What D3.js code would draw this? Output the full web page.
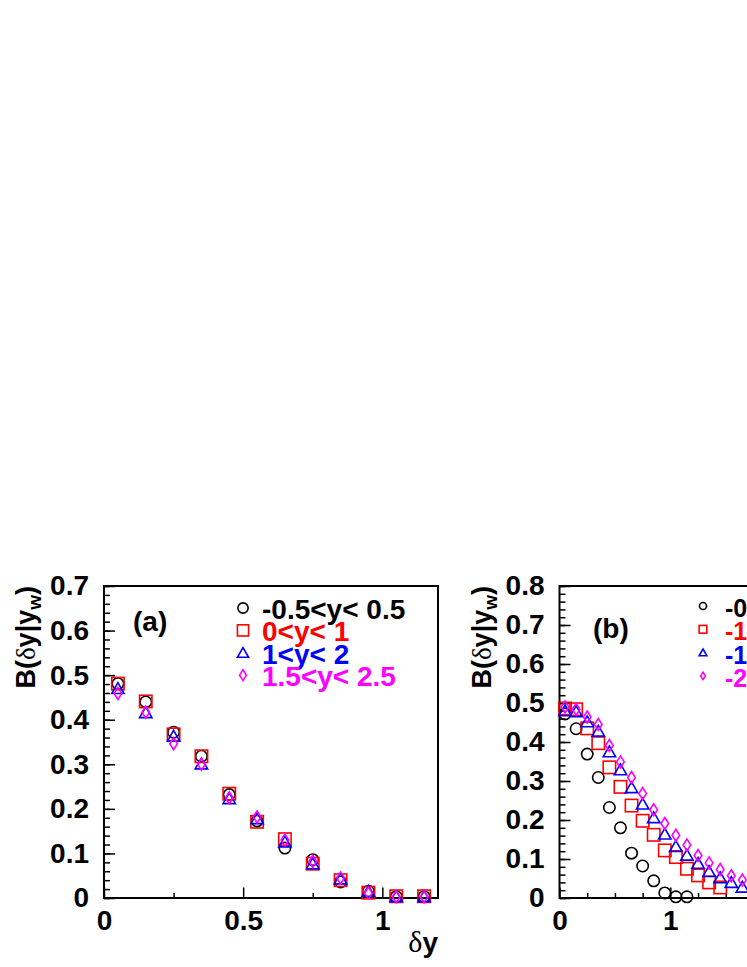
<!DOCTYPE html>
<html>
<head>
<meta charset="utf-8">
<script src="https://cdn.jsdelivr.net/npm/d3@7/dist/d3.min.js"></script>
<style>
  html, body { margin: 0; padding: 0; background: #fff; }
  svg { display: block; }
  text { font-family: "Liberation Sans", Arial, sans-serif; font-weight: bold; }
</style>
</head>
<body>
<div id="chart"></div>
<script>
// ---- data ----
// panel (a): all four rapidity windows share the same bins
const binsA = [0.05, 0.15, 0.25, 0.35, 0.45, 0.55, 0.65, 0.75, 0.85, 0.95, 1.05, 1.15];
const aMid  = [0.481, 0.440, 0.372, 0.318, 0.232, 0.173, 0.112, 0.086, 0.036, 0.015, 0.003, 0.003];
const aY01  = [0.481, 0.441, 0.367, 0.318, 0.234, 0.171, 0.132, 0.077, 0.040, 0.012, 0.004, 0.004];
const aY12  = [0.470, 0.416, 0.363, 0.301, 0.223, 0.178, 0.126, 0.077, 0.043, 0.015, 0.003, 0.003];
const aY1525 = [0.459, 0.417, 0.346, 0.300, 0.225, 0.182, 0.130, 0.082, 0.045, 0.011, 0.003, 0.003];
const legendA = ["-0.5<y< 0.5", "0<y< 1", "1<y< 2", "1.5<y< 2.5"];

// panel (b): the wider windows run out to larger delta-y
const binsB = [0.05, 0.15, 0.25, 0.35, 0.45, 0.55, 0.65, 0.75, 0.85, 0.95, 1.05, 1.15,
               1.25, 1.35, 1.45, 1.55, 1.65];
const bMid  = [0.472, 0.434, 0.369, 0.309, 0.232, 0.180, 0.115, 0.082, 0.044, 0.013, 0.003, 0.003];
const bW1   = [0.486, 0.484, 0.435, 0.397, 0.335, 0.285, 0.237, 0.198, 0.162, 0.122, 0.105, 0.075,
               0.058, 0.040, 0.027];
const bW2   = [0.480, 0.478, 0.452, 0.428, 0.375, 0.329, 0.283, 0.241, 0.206, 0.164, 0.132, 0.110,
               0.089, 0.068, 0.052, 0.040, 0.028];
const bW3   = [0.490, 0.484, 0.464, 0.445, 0.391, 0.349, 0.309, 0.268, 0.226, 0.191, 0.161, 0.136,
               0.109, 0.090, 0.073, 0.057, 0.046];
const legendB = ["-0.5<y< 0.5", "-1<y< 0", "-1.5<y< -0.5", "-2<y< -1"];

const xTicksA = [0, 0.5, 1];
const yTicksA = [0, 0.1, 0.2, 0.3, 0.4, 0.5, 0.6, 0.7];
const xTicksB = [0, 1, 2, 3];
const yTicksB = [0, 0.1, 0.2, 0.3, 0.4, 0.5, 0.6, 0.7, 0.8];

const colors = ["#000000", "#ff0000", "#0000ff", "#ff00ff"];
const shapes = ["circle", "square", "triangle", "diamond"];

const W = 747, H = 967;

const svg = d3.select("#chart").append("svg")
    .attr("width", W)
    .attr("height", H)
    .attr("viewBox", `0 0 ${W} ${H}`);

// open ROOT-style markers, s scales the whole marker
function marker(g, shape, color, s) {
    const sw = 1.6;
    if (shape === "circle") {
        g.append("circle").attr("r", 5.7 * s)
            .attr("fill", "none").attr("stroke", color).attr("stroke-width", sw);
    } else if (shape === "square") {
        g.append("rect").attr("x", -6.2 * s).attr("y", -6.2 * s)
            .attr("width", 12.4 * s).attr("height", 12.4 * s)
            .attr("fill", "none").attr("stroke", color).attr("stroke-width", sw);
    } else if (shape === "triangle") {
        g.append("path")
            .attr("d", `M0,${-5.8 * s}L${6.2 * s},${5 * s}L${-6.2 * s},${5 * s}Z`)
            .attr("fill", "none").attr("stroke", color).attr("stroke-width", sw);
    } else {
        g.append("path")
            .attr("d", `M0,${-6 * s}L${3.8 * s},0L0,${6 * s}L${-3.8 * s},0Z`)
            .attr("fill", "none").attr("stroke", color).attr("stroke-width", sw);
    }
}

function drawPanel(cfg) {
    const x = d3.scaleLinear().domain(cfg.xDomain).range([cfg.left, cfg.right]);
    const y = d3.scaleLinear().domain(cfg.yDomain).range([898, 586]);
    const g = svg.append("g");

    // minor ticks first, then major ticks with labels
    g.append("g").attr("transform", "translate(0,898)")
        .call(d3.axisBottom(x).tickValues(cfg.xMinor).tickSize(-5).tickFormat(""))
        .call(a => a.select(".domain").remove());
    g.append("g").attr("transform", `translate(${cfg.left},0)`)
        .call(d3.axisLeft(y).tickValues(d3.range(0, cfg.yDomain[1] + 0.001, 0.02)).tickSize(-6).tickFormat(""))
        .call(a => a.select(".domain").remove());

    const xa = g.append("g").attr("transform", "translate(0,898)")
        .call(d3.axisBottom(x).tickValues(cfg.xTicks).tickSize(-10.5).tickPadding(12)
            .tickFormat(d => String(d)));
    xa.select(".domain").remove();

    const ya = g.append("g").attr("transform", `translate(${cfg.left},0)`)
        .call(d3.axisLeft(y).tickValues(cfg.yTicks).tickSize(-11).tickPadding(15)
            .tickFormat(d => String(d)));
    ya.select(".domain").remove();

    g.selectAll(".tick line").attr("stroke", "#000").attr("stroke-width", 1.5);
    g.selectAll(".tick text")
        .attr("fill", "#000")
        .style("font-size", "28px")
        .style("font-family", '"Liberation Sans", Arial, sans-serif')
        .style("font-weight", "bold");

    // frame
    g.append("rect")
        .attr("x", cfg.left).attr("y", 586)
        .attr("width", cfg.right - cfg.left).attr("height", 898 - 586)
        .attr("fill", "none").attr("stroke", "#000").attr("stroke-width", 2);

    // y title, ROOT style: right-aligned at the top of the frame
    const yt = g.append("text")
        .attr("transform", `translate(${cfg.left - 69},586) rotate(-90)`)
        .attr("text-anchor", "end")
        .style("font-size", "27px");
    yt.append("tspan").text("B(");
    yt.append("tspan").text("δ")
        .style("font-family", '"Liberation Serif", serif').style("font-weight", "normal");
    yt.append("tspan").text("y|y");
    yt.append("tspan").text("w").attr("dy", 6).style("font-size", "19px");
    yt.append("tspan").text(")").attr("dy", -6);

    // panel tag
    g.append("text").attr("x", cfg.tagX).attr("y", cfg.tagY)
        .style("font-size", "28px").text(cfg.tag);

    // data
    cfg.series.forEach((vals, i) => {
        const pts = vals.map((v, k) => ({ x: cfg.bins[k], y: v }));
        g.append("g").selectAll("g").data(pts).enter().append("g")
            .attr("transform", d => `translate(${x(d.x)},${y(d.y)})`)
            .each(function () { marker(d3.select(this), shapes[i], colors[i], 1); });
    });

    // legend
    cfg.legend.forEach((lab, i) => {
        const by = cfg.legY + i * cfg.legStep;
        const m = g.append("g").attr("transform", `translate(${cfg.legMarkX},${by - 11})`);
        marker(m, shapes[i], colors[i], cfg.legScale);
        g.append("text").attr("x", cfg.legTextX).attr("y", by)
            .attr("fill", colors[i])
            .style("font-size", cfg.legFont + "px")
            .text(lab);
    });

    return { x, y };
}

drawPanel({
    left: 104, right: 438,
    xDomain: [0, 1.2], yDomain: [0, 0.7],
    xTicks: xTicksA, yTicks: yTicksA,
    xMinor: [0.25, 0.75],
    bins: binsA, series: [aMid, aY01, aY12, aY1525],
    tag: "(a)", tagX: 133, tagY: 631,
    legend: legendA, legMarkX: 243, legTextX: 262, legY: 619, legStep: 22.4,
    legScale: 0.9, legFont: 28
});

drawPanel({
    left: 559.5, right: 892,
    xDomain: [0, 3], yDomain: [0, 0.8],
    xTicks: xTicksB, yTicks: yTicksB,
    xMinor: [0.25, 0.5, 0.75, 1.25, 1.5, 1.75, 2.25, 2.5, 2.75],
    bins: binsB, series: [bMid, bW1, bW2, bW3],
    tag: "(b)", tagX: 593, tagY: 638,
    legend: legendB, legMarkX: 703, legTextX: 725, legY: 617, legStep: 23.3,
    legScale: 0.62, legFont: 25
});

// x title of panel (a)
const xt = svg.append("text")
    .attr("x", 438).attr("y", 952)
    .attr("text-anchor", "end")
    .style("font-size", "28px");
xt.append("tspan").text("δ")
    .style("font-family", '"Liberation Serif", serif').style("font-weight", "normal")
    .style("font-size", "30px");
xt.append("tspan").text("y");
</script>
</body>
</html>
